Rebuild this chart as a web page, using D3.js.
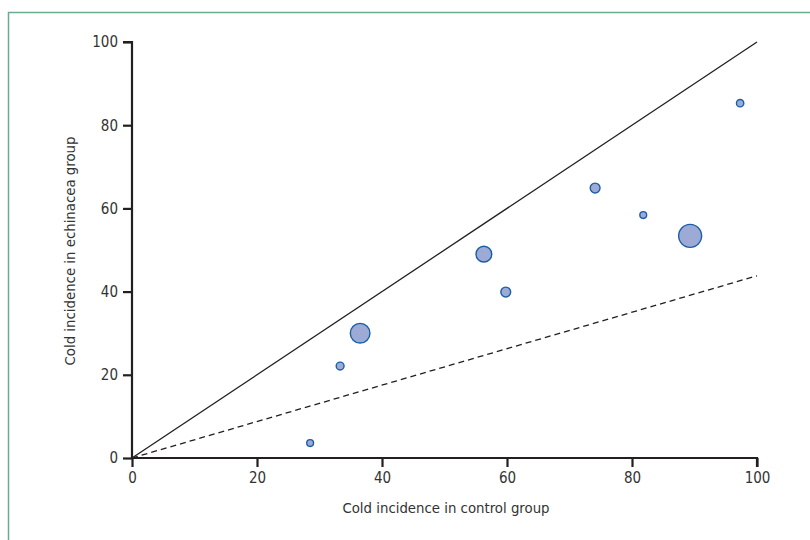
<!DOCTYPE html>
<html><head><meta charset="utf-8">
<script src="https://cdn.jsdelivr.net/npm/d3@7"></script>
<style>body{margin:0;background:#fff}svg{display:block}text{font-family:"DejaVu Sans Condensed","DejaVu Sans",sans-serif}</style>
</head><body>
<svg id="c" width="810" height="540"></svg>
<script>
const controlIncidence = [28.5, 33.3, 36.5, 56.3, 59.8, 74.1, 81.8, 89.3, 97.3];
const echinaceaIncidence = [3.6, 22.1, 30.0, 49.0, 39.9, 64.9, 58.4, 53.4, 85.3];
const studyWeight = [12, 16, 100, 64, 25, 25, 12, 137, 14];
const xTicks = [0, 20, 40, 60, 80, 100];
const yTicks = [0, 20, 40, 60, 80, 100];
const equalityLine = [[0, 0], [100, 100]];
const effectLine = [[0, 0], [100, 43.8]];

const svg = d3.select("#c");
// frame
svg.append("path").attr("d", "M8.5,540 V12.5 H810").attr("fill", "none").attr("stroke", "#6aac8c").attr("stroke-width", 1.5);

const x = d3.scaleLinear().domain([0, 100]).range([132, 757]);
const y = d3.scaleLinear().domain([0, 100]).range([458, 42]);
const r = d3.scaleSqrt().domain([0, 137]).range([0, 11.5]);

const line = d3.line().x(d => x(d[0])).y(d => y(d[1]));
svg.append("path").attr("d", line(equalityLine)).attr("stroke", "#231f20").attr("stroke-width", 1.3).attr("fill", "none");
svg.append("path").attr("d", line(effectLine)).attr("stroke", "#231f20").attr("stroke-width", 1.3).attr("stroke-dasharray", "6,4").attr("fill", "none");

const xa = svg.append("g").attr("transform", "translate(0,458)")
  .call(d3.axisBottom(x).tickValues(xTicks).tickSize(9).tickPadding(5).tickFormat(d3.format("d")));
const ya = svg.append("g").attr("transform", "translate(132,0)")
  .call(d3.axisLeft(y).tickValues(yTicks).tickSize(9).tickPadding(5).tickFormat(d3.format("d")));
[xa, ya].forEach(a => {
  a.select(".domain").attr("stroke", "#231f20").attr("stroke-width", 2.2);
  a.selectAll(".tick line").attr("stroke", "#231f20").attr("stroke-width", 2.2);
  a.selectAll(".tick text").attr("fill", "#333").style("font-size", "15px");
});
xa.select(".domain").attr("d", "M132,0H757V9");
ya.select(".domain").attr("d", "M-9,42H0V458");

const pts = controlIncidence.map((c, i) => ({c, e: echinaceaIncidence[i], w: studyWeight[i]}));
svg.append("g").selectAll("circle").data(pts).join("circle")
  .attr("cx", d => x(d.c)).attr("cy", d => y(d.e)).attr("r", d => r(d.w))
  .attr("fill", "#9eaad6").attr("stroke", "#1a5ea8").attr("stroke-width", 1.4);

svg.append("text").attr("x", 446).attr("y", 513).attr("text-anchor", "middle").attr("fill", "#333").style("font-size", "14.8px").text("Cold incidence in control group");
svg.append("text").attr("transform", "translate(75,251) rotate(-90)").attr("text-anchor", "middle").attr("fill", "#333").style("font-size", "14.8px").text("Cold incidence in echinacea group");
</script>
</body></html>
